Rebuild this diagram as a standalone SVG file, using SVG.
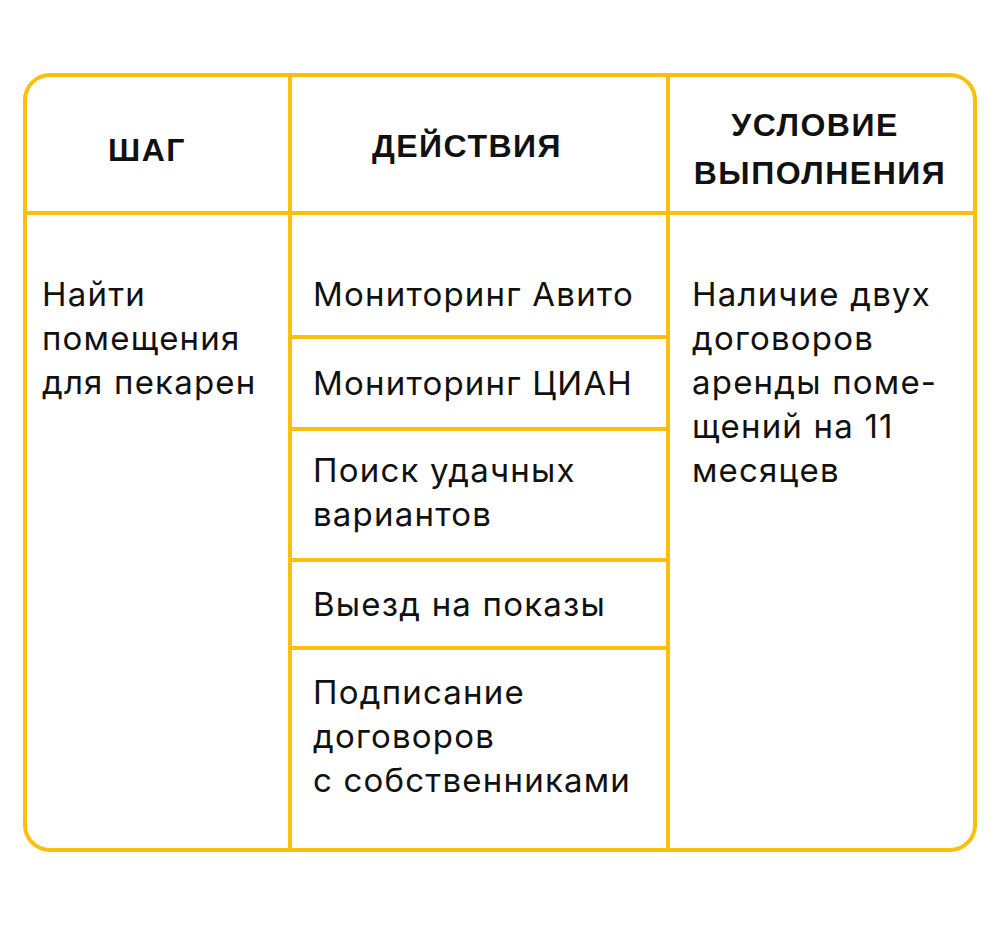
<svg xmlns="http://www.w3.org/2000/svg" width="1000" height="937" viewBox="0 0 1000 937">
<style>
.ln{stroke:#FDBF0B;stroke-width:4;fill:none;stroke-linecap:round}
.h{font-family:"Liberation Sans",sans-serif;font-size:32px;fill:#111;text-anchor:middle;font-weight:bold;letter-spacing:1.5px}
.t{font-family:Inter,"Noto Sans",sans-serif;font-size:33px;fill:#111;letter-spacing:1.2px}
</style>
<rect width="1000" height="937" fill="#fff"/>
<g id="grid">
<rect class="ln" x="25" y="75" width="950" height="775" rx="25"/>
<line class="ln" x1="290" y1="77" x2="290" y2="850"/>
<line class="ln" x1="668" y1="77" x2="668" y2="850"/>
<line class="ln" x1="25" y1="213" x2="975" y2="213"/>
<line class="ln" x1="290" y1="337" x2="668" y2="337"/>
<line class="ln" x1="290" y1="429" x2="668" y2="429"/>
<line class="ln" x1="290" y1="560" x2="668" y2="560"/>
<line class="ln" x1="290" y1="648" x2="668" y2="648"/>
</g>
<g id="headers">
<text class="h" x="147" y="161">ШАГ</text>
<text class="h" x="467" y="157">ДЕЙСТВИЯ</text>
<text class="h" x="815" y="136">УСЛОВИЕ</text>
<text class="h" x="820" y="184">ВЫПОЛНЕНИЯ</text>
</g>
<g id="step">
<text class="t" x="42" y="306">Найти</text>
<text class="t" x="42" y="350">помещения</text>
<text class="t" x="42" y="394">для пекарен</text>
</g>
<g id="actions">
<text class="t" x="313" y="306">Мониторинг Авито</text>
<text class="t" x="313" y="395">Мониторинг ЦИАН</text>
<text class="t" x="313" y="482">Поиск удачных</text>
<text class="t" x="313" y="526">вариантов</text>
<text class="t" x="313" y="616">Выезд на показы</text>
<text class="t" x="313" y="704">Подписание</text>
<text class="t" x="313" y="748">договоров</text>
<text class="t" x="313" y="792">с собственниками</text>
</g>
<g id="condition">
<text class="t" x="692" y="306">Наличие двух</text>
<text class="t" x="692" y="350">договоров</text>
<text class="t" x="692" y="394">аренды поме-</text>
<text class="t" x="692" y="438">щений на 11</text>
<text class="t" x="692" y="482">месяцев</text>
</g>
</svg>
